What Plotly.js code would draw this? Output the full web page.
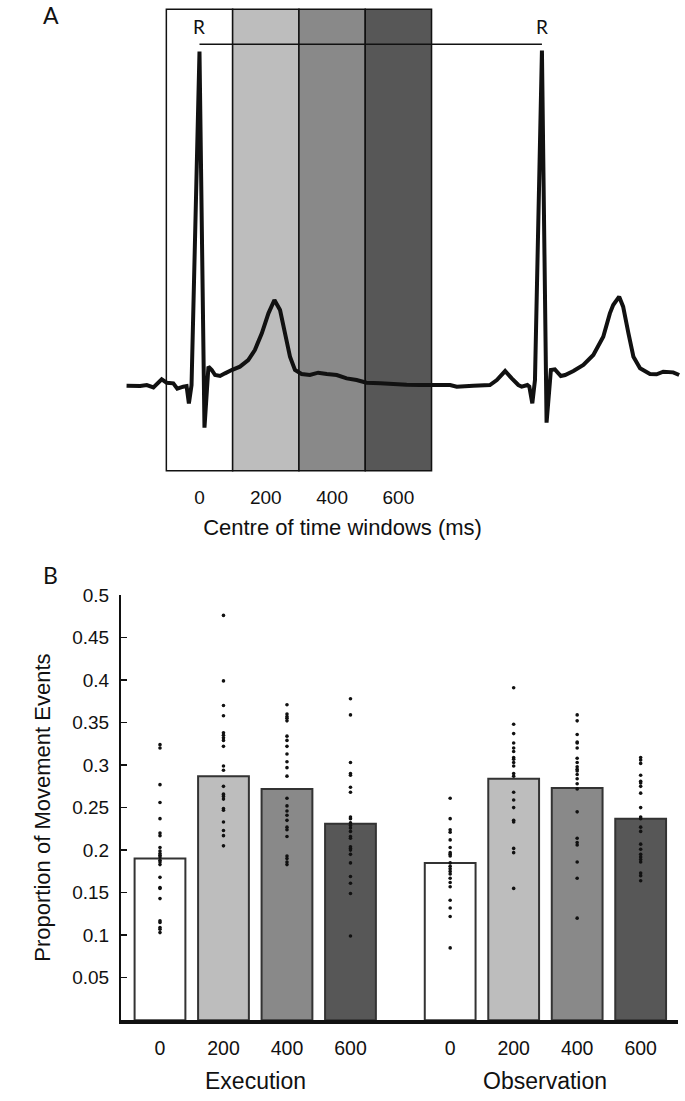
<!DOCTYPE html>
<html>
<head>
<meta charset="utf-8">
<script src="https://cdn.plot.ly/plotly-3.0.1.min.js"></script>
<style>html,body{margin:0;padding:0;background:#fff;}#chart{width:685px;height:1101px;}</style>
</head>
<body>
<div id="chart"></div>
<script>
// ---------- Panel A: ECG trace (time in ms, amplitude in arbitrary units) ----------
const ecgTime = [-220,-179,-159,-139,-114,-99,-79,-67,-49,-39,
  -32,-24,0,15,27,37,47,62,77,97,
  122,147,167,188,208,226,243,258,273,288,
  308,333,358,384,414,444,474,504,545,585,
  625,665,705,756,776,826,876,897,922,942,
  962,972,989,995,1004,1012,1033,1047,1060,1072,
  1090,1103,1128,1158,1188,1218,1238,1248,1266,1278,
  1294,1309,1329,1359,1379,1399,1429,1447];
const ecgAmp = [-0.002,-0.003,0,-0.007,0.017,0.007,0.005,-0.011,-0.005,-0.003,
  -0.055,0,1.0,-0.128,0.055,0.045,0.030,0.027,0.035,0.045,
  0.055,0.075,0.105,0.155,0.215,0.255,0.225,0.155,0.085,0.045,
  0.033,0.030,0.037,0.033,0.030,0.020,0.015,0.007,0.005,0.003,
  0.001,0,0,0,-0.005,-0.002,0,0.015,0.042,0.020,
  0,-0.005,0,-0.005,-0.055,0.015,1.003,-0.113,0.045,0.047,
  0.027,0.030,0.042,0.060,0.090,0.145,0.215,0.240,0.265,0.235,
  0.155,0.085,0.050,0.033,0.032,0.040,0.038,0.030];
const rPeakTimes = [0, 1033];
const windowCentres = [0, 200, 400, 600];
const windowWidth = 200;
const windowLabels = ["0", "200", "400", "600"];
const windowColors = ["#ffffff", "#bdbdbd", "#898989", "#575757"];

// ---------- Panel B: proportions ----------
const groups = ["Execution", "Observation"];
const execMeans = [0.190, 0.287, 0.272, 0.231];
const obsMeans  = [0.185, 0.284, 0.273, 0.237];
const exec0   = [0.324,0.320,0.277,0.256,0.237,0.220,0.217,0.203,0.199,0.196,0.194,0.192,0.188,0.186,0.183,0.168,0.156,0.155,0.143,0.117,0.115,0.109,0.107,0.103];
const exec200 = [0.476,0.399,0.370,0.358,0.338,0.335,0.332,0.329,0.322,0.299,0.294,0.275,0.266,0.265,0.263,0.260,0.249,0.247,0.233,0.223,0.217,0.205];
const exec400 = [0.371,0.360,0.357,0.355,0.352,0.334,0.329,0.322,0.313,0.304,0.297,0.287,0.261,0.252,0.246,0.241,0.235,0.227,0.224,0.216,0.193,0.190,0.186,0.183];
const exec600 = [0.378,0.359,0.303,0.290,0.288,0.274,0.268,0.239,0.237,0.232,0.229,0.226,0.222,0.216,0.214,0.204,0.202,0.200,0.195,0.185,0.169,0.161,0.149,0.099];
const obs0    = [0.261,0.237,0.224,0.221,0.212,0.203,0.197,0.195,0.193,0.185,0.181,0.178,0.175,0.172,0.167,0.162,0.157,0.141,0.132,0.122,0.085];
const obs200  = [0.391,0.348,0.337,0.326,0.320,0.316,0.309,0.307,0.303,0.299,0.290,0.287,0.268,0.259,0.250,0.235,0.233,0.202,0.197,0.155];
const obs400  = [0.359,0.352,0.336,0.327,0.326,0.320,0.308,0.303,0.298,0.295,0.293,0.289,0.284,0.278,0.272,0.245,0.214,0.209,0.206,0.186,0.167,0.120];
const obs600  = [0.309,0.306,0.302,0.288,0.281,0.279,0.275,0.267,0.250,0.239,0.237,0.227,0.222,0.207,0.201,0.195,0.192,0.189,0.186,0.173,0.170,0.164];
const yTickVals = [0.05,0.1,0.15,0.2,0.25,0.3,0.35,0.4,0.45,0.5];

// ---------- build ----------
const FONT = "Liberation Sans";
const LABELFONT = "Lato";
const groupOffset = 4.57;
const means = [execMeans, obsMeans];
const dots = [[exec0, exec200, exec400, exec600], [obs0, obs200, obs400, obs600]];

const barX = [], barY = [], barC = [], tickX = [], tickT = [];
const dotX = [], dotY = [];
groups.forEach((g, gi) => {
  windowLabels.forEach((lab, wi) => {
    const pos = wi + gi * groupOffset;
    barX.push(pos); barY.push(means[gi][wi]); barC.push(windowColors[wi]);
    tickX.push(pos); tickT.push(lab);
    dots[gi][wi].forEach(v => { dotX.push(pos); dotY.push(v); });
  });
});

const traces = [
  { type: "scatter", mode: "lines", x: ecgTime, y: ecgAmp, xaxis: "x", yaxis: "y",
    line: { color: "#111111", width: 4, simplify: false }, hoverinfo: "skip", showlegend: false },
  { type: "bar", x: barX, y: barY, xaxis: "x2", yaxis: "y2", width: 0.8,
    marker: { color: barC, line: { color: "#333333", width: 2 } }, showlegend: false },
  { type: "scatter", mode: "markers", x: dotX, y: dotY, xaxis: "x2", yaxis: "y2",
    marker: { color: "#111111", size: 3.6 }, showlegend: false }
];

const shapes = windowCentres.map((c, i) => ({
  type: "rect", xref: "x", yref: "y domain",
  x0: c - windowWidth / 2, x1: c + windowWidth / 2, y0: 0, y1: 1,
  fillcolor: windowColors[i], line: { color: "#111111", width: 1.5 }, layer: "below"
}));
shapes.push({ type: "line", xref: "x", yref: "y", x0: rPeakTimes[0], x1: rPeakTimes[1],
  y0: 1.022, y1: 1.022, line: { color: "#111111", width: 1.5 } });

const annotations = [];
rPeakTimes.forEach(t => annotations.push({ xref: "x", yref: "y", x: t, y: 1.074, text: "R",
  showarrow: false, font: { family: LABELFONT, size: 19, color: "#111" } }));
groups.forEach((g, gi) => {
  const xs = tickX.slice(gi * 4, gi * 4 + 4);
  annotations.push({ xref: "x2", yref: "paper", x: (xs[0] + xs[3]) / 2, y: 1 - 1080.5 / 1101,
    yanchor: "middle", text: g, showarrow: false, font: { family: FONT, size: 23, color: "#111" } });
});
annotations.push({ xref: "paper", yref: "paper", x: 41 / 685, y: 1 - 15.3 / 1101, text: "A",
  showarrow: false, yanchor: "middle", font: { family: LABELFONT, size: 23, color: "#111" } });
annotations.push({ xref: "paper", yref: "paper", x: 41 / 685, y: 1 - 575 / 1101, text: "B",
  showarrow: false, yanchor: "middle", font: { family: LABELFONT, size: 23, color: "#111" } });

const layout = {
  width: 685, height: 1101,
  margin: { l: 0, r: 0, t: 0, b: 0 },
  paper_bgcolor: "#ffffff", plot_bgcolor: "rgba(0,0,0,0)",
  showlegend: false,
  font: { family: FONT, color: "#111111" },
  xaxis: { domain: [0, 1], range: [-601.8, 1464.6], anchor: "y",
    showgrid: false, zeroline: false, showline: false, ticks: "",
    tickmode: "array", tickvals: windowCentres, ticktext: windowLabels,
    tickfont: { family: FONT, size: 19, color: "#111" }, ticklabelstandoff: 13,
    title: { text: "Centre of time windows (ms)", font: { family: FONT, size: 22, color: "#111" }, standoff: 12 } },
  yaxis: { domain: [1 - 470.7 / 1101, 1 - 9.3 / 1101], range: [-0.257, 1.127], anchor: "x",
    visible: false, showgrid: false, zeroline: false },
  xaxis2: { domain: [121 / 685, 678 / 685], range: [-0.614, 8.158], anchor: "y2",
    showgrid: false, zeroline: false, showline: true, linecolor: "#111", linewidth: 3.5,
    ticks: "", tickmode: "array", tickvals: tickX, ticktext: tickT,
    tickfont: { family: FONT, size: 19.5, color: "#111" }, ticklabelstandoff: 8 },
  yaxis2: { domain: [1 - 1020.2 / 1101, 1 - 595 / 1101], range: [0, 0.5], anchor: "x2",
    showgrid: false, zeroline: false, showline: true, linecolor: "#111", linewidth: 2,
    ticks: "inside", ticklen: 6, tickwidth: 1.5, tickcolor: "#111",
    tickmode: "array", tickvals: yTickVals, ticktext: yTickVals.map(String),
    tickfont: { family: FONT, size: 19, color: "#111" }, ticklabelstandoff: 6,
    title: { text: "Proportion of Movement Events", font: { family: FONT, size: 22, color: "#111" }, standoff: 16 } },
  shapes: shapes,
  annotations: annotations
};

Plotly.newPlot("chart", traces, layout, { staticPlot: true, displayModeBar: false });
</script>
</body>
</html>
